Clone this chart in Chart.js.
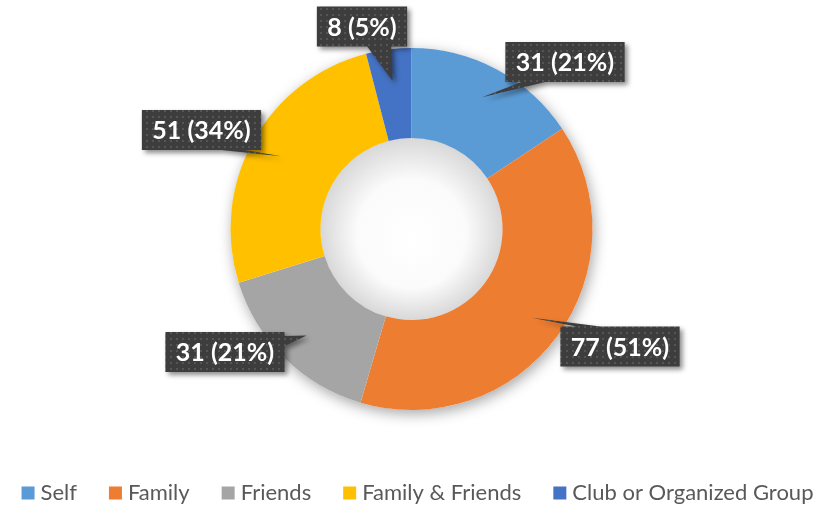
<!DOCTYPE html>
<html>
<head>
<meta charset="utf-8">
<script src="https://cdn.jsdelivr.net/npm/chart.js@4.4.1/dist/chart.umd.min.js"></script>
<style>
  body { margin: 0; background: #fff; }
</style>
</head>
<body>
<canvas id="donut" width="835" height="511"></canvas>
<script>
// data
var categories = ["Self", "Family", "Friends", "Family & Friends", "Club or Organized Group"];
var counts = [31, 77, 31, 51, 8];
var percentLabels = ["21%", "51%", "21%", "34%", "5%"];
var sliceColors = ["#5B9BD5", "#ED7D31", "#A5A5A5", "#FFC000", "#4472C4"];

// dotted dark fill for the callout boxes
function dotPattern(ctx) {
  var c = document.createElement("canvas");
  c.width = 6; c.height = 6;
  var p = c.getContext("2d");
  p.fillStyle = "#3d3d3d";
  p.fillRect(0, 0, 6, 6);
  p.fillStyle = "#555555";
  p.fillRect(2, 2, 2, 2);
  return ctx.createPattern(c, "repeat");
}

// ring shadow + shaded hole
var ringShadow = {
  id: "ringShadow",
  beforeDatasetsDraw: function(chart) {
    var arc = chart.getDatasetMeta(0).data[0];
    if (!arc) return;
    var ctx = chart.ctx;
    var x = arc.x, y = arc.y, r = arc.outerRadius, ir = arc.innerRadius;
    ctx.save();
    ctx.shadowColor = "rgba(0,0,0,0.35)";
    ctx.shadowBlur = 14;
    ctx.shadowOffsetX = 2;
    ctx.shadowOffsetY = 4;
    ctx.fillStyle = "#ffffff";
    ctx.beginPath();
    ctx.arc(x, y, r, 0, Math.PI * 2);
    ctx.arc(x, y, ir, 0, Math.PI * 2, true);
    ctx.fill();
    ctx.restore();

    ctx.save();
    var g = ctx.createRadialGradient(x, y + 12, 0, x, y, ir);
    g.addColorStop(0, "#ffffff");
    g.addColorStop(0.6, "#fbfbfb");
    g.addColorStop(1, "#d8d8d8");
    ctx.fillStyle = g;
    ctx.beginPath();
    ctx.arc(x, y, ir, 0, Math.PI * 2);
    ctx.fill();
    ctx.restore();
  }
};

// callout labels with a little pointer towards the slice
var callouts = {
  id: "callouts",
  afterDatasetsDraw: function(chart, args, opts) {
    var ctx = chart.ctx;
    var meta = chart.getDatasetMeta(0);
    var fill = dotPattern(ctx);
    ctx.save();
    ctx.font = opts.font;
    meta.data.forEach(function(arc, i) {
      var mid = (arc.startAngle + arc.endAngle) / 2;
      var tr = arc.innerRadius + 0.65 * (arc.outerRadius - arc.innerRadius);
      var tx = arc.x + Math.cos(mid) * tr;
      var ty = arc.y + Math.sin(mid) * tr;
      var text = counts[i] + " (" + percentLabels[i] + ")";
      var w = ctx.measureText(text).width + 21;
      var h = 40;
      var off = opts.offsets[i];
      var cx = arc.x + off[0], cy = arc.y + off[1];
      var l = cx - w / 2, t = cy - h / 2, rgt = l + w, b = t + h;

      ctx.beginPath();
      ctx.moveTo(l, t);
      // pointer on the side that faces the tip
      if (ty > b) {
        var bx = Math.min(Math.max(tx, l + 28), rgt - 28);
        ctx.lineTo(rgt, t); ctx.lineTo(rgt, b);
        ctx.lineTo(bx + 12, b); ctx.lineTo(tx, ty); ctx.lineTo(bx - 12, b);
        ctx.lineTo(l, b);
      } else if (ty < t) {
        var bx2 = Math.min(Math.max(tx, l + 28), rgt - 28);
        ctx.lineTo(bx2 - 12, t); ctx.lineTo(tx, ty); ctx.lineTo(bx2 + 12, t);
        ctx.lineTo(rgt, t); ctx.lineTo(rgt, b); ctx.lineTo(l, b);
      } else if (tx > rgt) {
        var by = Math.min(Math.max(ty, t + 9), b - 12);
        ctx.lineTo(rgt, t); ctx.lineTo(rgt, by - 5); ctx.lineTo(tx, ty);
        ctx.lineTo(rgt, by + 5); ctx.lineTo(rgt, b); ctx.lineTo(l, b);
      } else {
        var by2 = Math.min(Math.max(ty, t + 9), b - 12);
        ctx.lineTo(rgt, t); ctx.lineTo(rgt, b); ctx.lineTo(l, b);
        ctx.lineTo(l, by2 + 5); ctx.lineTo(tx, ty); ctx.lineTo(l, by2 - 5);
      }
      ctx.closePath();
      ctx.save();
      ctx.shadowColor = "rgba(0,0,0,0.45)";
      ctx.shadowBlur = 5;
      ctx.shadowOffsetX = 3;
      ctx.shadowOffsetY = 3;
      ctx.fillStyle = fill;
      ctx.fill();
      ctx.restore();

      ctx.fillStyle = "#ffffff";
      ctx.textAlign = "center";
      ctx.textBaseline = "middle";
      ctx.fillText(text, cx, cy + 1);
    });
    ctx.restore();
  }
};

// one-row legend at the bottom, excel spacing
var bottomLegend = {
  id: "bottomLegend",
  afterDraw: function(chart, args, opts) {
    var ctx = chart.ctx;
    var items = chart.legend.legendItems;
    ctx.save();
    ctx.font = opts.font;
    ctx.textBaseline = "middle";
    ctx.textAlign = "left";
    var widths = items.map(function(it) { return ctx.measureText(it.text).width; });
    var total = 0;
    widths.forEach(function(w) { total += opts.box + opts.gap + w; });
    total += opts.spacing * (items.length - 1);
    var x = (chart.width - total) / 2;
    var y = opts.y;
    items.forEach(function(it, i) {
      ctx.fillStyle = it.fillStyle;
      ctx.fillRect(x, y - opts.box / 2, opts.box, opts.box);
      ctx.fillStyle = opts.color;
      ctx.fillText(it.text, x + opts.box + opts.gap, y);
      x += opts.box + opts.gap + widths[i] + opts.spacing;
    });
    ctx.restore();
  }
};

var ctx = document.getElementById("donut").getContext("2d");
var chart = new Chart(ctx, {
  type: "doughnut",
  data: {
    labels: categories,
    datasets: [{
      data: counts,
      backgroundColor: sliceColors,
      borderWidth: 0,
      radius: 181,
      cutout: "50.3%"
    }]
  },
  options: {
    responsive: false,
    animation: false,
    layout: { padding: { top: 0, left: 0, right: 12, bottom: 53 } },
    plugins: {
      tooltip: { enabled: false },
      legend: { display: false },
      bottomLegend: {
        font: "22px Lato",
        color: "#595959",
        box: 13,
        gap: 6,
        spacing: 32,
        y: 493
      },
      callouts: {
        font: "bold 25px Lato",
        offsets: [[153.5, -167], [208.5, 117.5], [-186.5, 123], [-210, -99], [-49.5, -202.5]]
      }
    }
  },
  plugins: [ringShadow, callouts, bottomLegend]
});
</script>
</body>
</html>
